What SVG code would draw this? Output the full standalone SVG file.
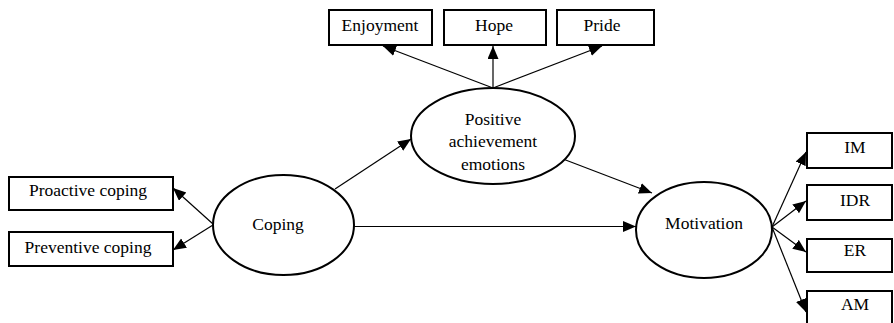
<svg xmlns="http://www.w3.org/2000/svg" width="894" height="323" viewBox="0 0 894 323">
<defs>
<marker id="ah" markerUnits="userSpaceOnUse" markerWidth="14" markerHeight="12" refX="13" refY="5.5" orient="auto">
<path d="M0,0 L13,5.5 L0,11 Z" fill="#000"/>
</marker>
<style>
.box{fill:#fff;stroke:#000;stroke-width:2}
.ell{fill:#fff;stroke:#000;stroke-width:2}
.lbl{font-family:"Liberation Serif","Times New Roman",serif;font-size:17.5px;fill:#000;text-anchor:middle}
.con line{stroke:#000;stroke-width:1.2;marker-end:url(#ah)}
</style>
</defs>
<rect width="894" height="323" fill="#fff"/>
<g class="con">
<line x1="493" y1="88" x2="383" y2="46"/>
<line x1="493" y1="88" x2="493" y2="46"/>
<line x1="493" y1="88" x2="602" y2="46"/>
<line x1="213" y1="224" x2="173" y2="188"/>
<line x1="213" y1="225" x2="173" y2="250"/>
<line x1="335" y1="189" x2="411" y2="139"/>
<line x1="354" y1="226.5" x2="636" y2="226.5"/>
<line x1="563" y1="159" x2="652" y2="193"/>
<line x1="772" y1="227" x2="806" y2="152"/>
<line x1="772" y1="227" x2="806" y2="201"/>
<line x1="772" y1="227" x2="806" y2="252"/>
<line x1="772" y1="227" x2="806" y2="312"/>
</g>
<g id="enjoyment"><rect class="box" x="329" y="10" width="103" height="35"/><text class="lbl" x="380" y="31">Enjoyment</text></g>
<g id="hope"><rect class="box" x="444" y="10" width="102" height="35"/><text class="lbl" x="494" y="31">Hope</text></g>
<g id="pride"><rect class="box" x="557" y="10" width="97" height="35"/><text class="lbl" x="602" y="31">Pride</text></g>
<g id="positive"><ellipse class="ell" cx="493" cy="136" rx="82" ry="48"/>
<text class="lbl" x="493" y="125">Positive</text><text class="lbl" x="493" y="147">achievement</text><text class="lbl" x="493" y="170">emotions</text></g>
<g id="coping"><ellipse class="ell" cx="283.5" cy="225" rx="70.5" ry="50"/><text class="lbl" x="278" y="230">Coping</text></g>
<g id="proactive"><rect class="box" x="9" y="177" width="164" height="33"/><text class="lbl" x="88" y="196">Proactive coping</text></g>
<g id="preventive"><rect class="box" x="9" y="232" width="164" height="34"/><text class="lbl" x="88" y="253">Preventive coping</text></g>
<g id="motivation"><ellipse class="ell" cx="704" cy="230" rx="68" ry="48"/><text class="lbl" x="704" y="229">Motivation</text></g>
<g id="im"><rect class="box" x="807" y="133" width="85" height="35"/><text class="lbl" x="855" y="153">IM</text></g>
<g id="idr"><rect class="box" x="807" y="185" width="85" height="35"/><text class="lbl" x="855" y="206">IDR</text></g>
<g id="er"><rect class="box" x="807" y="239" width="85" height="33"/><text class="lbl" x="855" y="256">ER</text></g>
<g id="am"><rect class="box" x="807" y="291" width="85" height="40"/><text class="lbl" x="855" y="310">AM</text></g>
</svg>
